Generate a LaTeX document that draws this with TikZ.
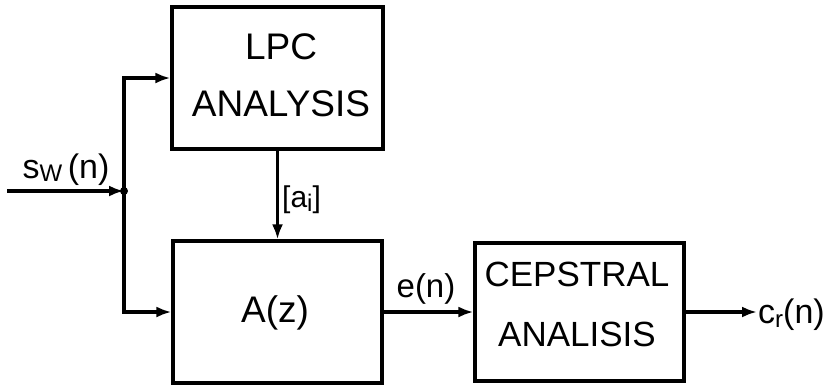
\documentclass[tikz,border=0pt]{standalone}
\usepackage{fontspec}
\setmainfont{Liberation Sans}
\usetikzlibrary{arrows.meta}
\tikzset{
  blockbox/.style={draw, line width=3.2pt, inner sep=0pt},
  blocktext/.style={inner sep=0pt, align=center},
  wire/.style={line width=3.2pt},
  flow/.style={wire, -{Latex[length=15pt,width=11pt]}},
  sig/.style={inner sep=0pt},
}
% lowered small letter used as an index
\newcommand{\idx}[2]{\raisebox{-#2}{\fontsize{24}{24}\selectfont #1}}

\begin{document}
\begin{tikzpicture}[x=1pt,y=-1pt]
\useasboundingbox (0,0) rectangle (839,386);

% blocks
\node[blockbox, minimum width=211pt, minimum height=142pt] (lpc) at (277.5,78) {};
\node[blockbox, minimum width=209pt, minimum height=142pt] (az) at (277.5,312) {};
\node[blockbox, minimum width=209pt, minimum height=138pt] (cep) at (579.5,312) {};

% block captions
\node[blocktext, font=\fontsize{37}{57}\selectfont] (lpctxt) at (281,75) {LPC\\ANALYSIS};
\node[blocktext, font=\fontsize{37}{44}\selectfont] (aztxt) at (275,313) {A(z)};
\node[blocktext, font=\fontsize{35}{60}\selectfont] (ceptxt) at (577,304) {CEPSTRAL\\ANALISIS};

% input and branch point
\coordinate (src) at (7,191);
\coordinate (jn) at (124,191);
\coordinate (dst) at (757,312);

\draw[flow] (src) -- (jn);
\fill (jn) circle (4pt);
\draw[flow] (jn) |- (lpc.west);
\draw[flow] (jn) |- (az.west);

% main path
\draw[flow] (lpc.south) -- (az.north);
\draw[flow] (az.east) -- (cep.west);
\draw[flow] (cep.east) -- (dst);

% signal labels
\node[sig, anchor=base, font=\fontsize{34}{40}\selectfont] (lsw) at (66,178) {s\idx{W}{3pt}\,(n)};
\node[sig, anchor=base west, font=\fontsize{30}{36}\selectfont] (lai) at (282,207) {[a\idx{i}{4pt}]};
\node[sig, anchor=base, font=\fontsize{33}{40}\selectfont] (len) at (426,297) {e(n)};
\node[sig, anchor=base west, font=\fontsize{34}{40}\selectfont] (lcr) at (758,323) {c\idx{r}{4pt}(n)};
\end{tikzpicture}
\end{document}
